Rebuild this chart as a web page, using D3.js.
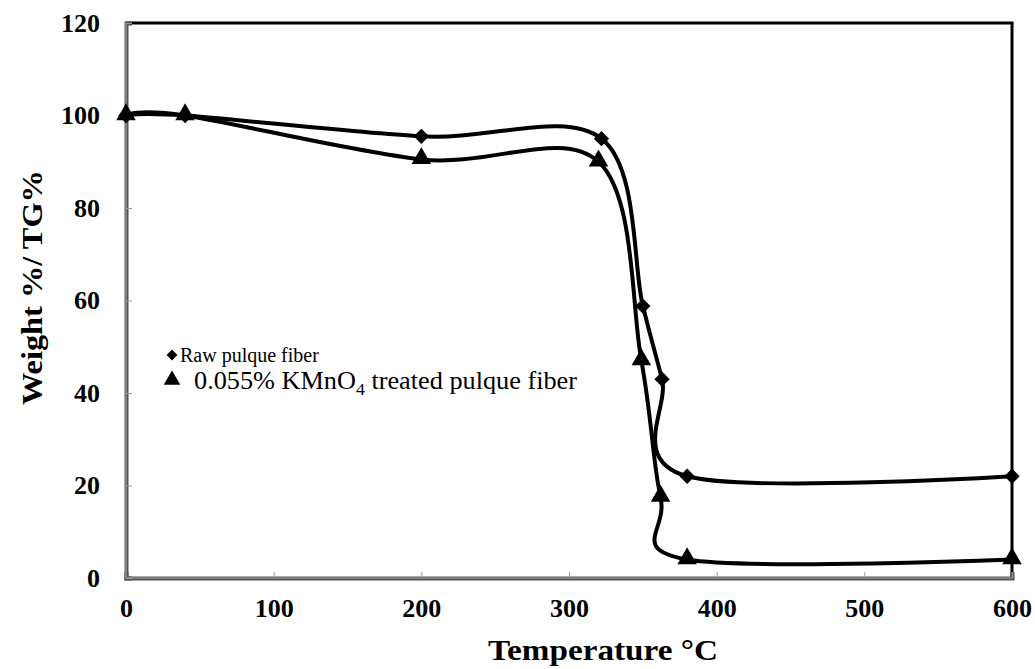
<!DOCTYPE html>
<html><head><meta charset="utf-8">
<script src="https://cdn.jsdelivr.net/npm/d3@7"></script>
<style>body{margin:0;background:#fff}svg{display:block}</style>
</head><body>
<svg id="c" width="1035" height="669"></svg>
<script>
const temps = [0, 40, 200, 322, 350, 363, 380, 600];
const rawFiber = [100, 100, 95.5, 95, 58.8, 43, 22, 22];
const tempsTreated = [0, 40, 200, 320, 349, 362, 380, 600];
const treatedFiber = [100, 100, 90.5, 90, 47, 17.5, 4, 4];
const xTicks = [0, 100, 200, 300, 400, 500, 600];
const yTicks = [0, 20, 40, 60, 80, 100, 120];
const seriesNames = ["Raw pulque fiber", "0.055% KMnO", "4", " treated pulque fiber"];

const svg = d3.select("#c");
const L = 126, R = 1012, T = 23, B = 578;
const x = d3.scaleLinear().domain([0, 600]).range([L, R]);
const y = d3.scaleLinear().domain([0, 120]).range([B, T]);
const serif = "'Liberation Serif','Times New Roman',serif";

// frame: top/right black
svg.append("line").attr("x1", L).attr("x2", R + 1.5).attr("y1", T).attr("y2", T).attr("stroke", "#000").attr("stroke-width", 3);
svg.append("line").attr("x1", R).attr("x2", R).attr("y1", T).attr("y2", B).attr("stroke", "#000").attr("stroke-width", 3);

// axes (inner ticks)
const xAxis = d3.axisBottom(x).tickValues(xTicks).tickSize(-6).tickPadding(21).tickFormat(d3.format("d"));
const gx = svg.append("g").attr("transform", `translate(0,${B})`).call(xAxis);
const yAxis = d3.axisLeft(y).tickValues(yTicks).tickSize(-6).tickPadding(26).tickFormat(d3.format("d"));
const gy = svg.append("g").attr("transform", `translate(${L},0)`).call(yAxis);
[gx, gy].forEach(g => {
  g.select(".domain").attr("stroke", "#555").attr("stroke-width", 4);
  g.selectAll(".tick line").attr("stroke", "#999").attr("stroke-width", 1);
  g.selectAll(".tick text").attr("font-family", serif).attr("font-weight", "bold")
    .attr("font-size", 26).attr("fill", "#000");
});
gx.selectAll(".tick text").attr("dy", "0.71em");
// light inner highlight on axis lines
svg.append("line").attr("x1", L).attr("x2", R).attr("y1", B).attr("y2", B).attr("stroke", "#aaa").attr("stroke-width", 1);
svg.append("line").attr("x1", L).attr("x2", L).attr("y1", T).attr("y2", B).attr("stroke", "#aaa").attr("stroke-width", 1);

// axis titles
svg.append("text").attr("x", 488).attr("y", 660).attr("text-anchor", "start")
  .attr("textLength", 230).attr("lengthAdjust", "spacingAndGlyphs")
  .attr("font-family", serif).attr("font-weight", "bold").attr("font-size", 30).text("Temperature °C");
svg.append("text").attr("transform", "translate(42,405) rotate(-90)").attr("text-anchor", "start")
  .attr("textLength", 235).attr("lengthAdjust", "spacingAndGlyphs")
  .attr("font-family", serif).attr("font-weight", "bold").attr("font-size", 29).text("Weight %/ TG%");

// lines
const line = d3.line().x(d => x(d[0])).y(d => y(d[1])).curve(d3.curveCatmullRom.alpha(0));
const rawData = temps.map((t, i) => [t, rawFiber[i]]);
const trData = tempsTreated.map((t, i) => [t, treatedFiber[i]]);
svg.append("path").datum(rawData).attr("d", line).attr("fill", "none").attr("stroke", "#000").attr("stroke-width", 4);
svg.append("path").datum(trData).attr("d", line).attr("fill", "none").attr("stroke", "#000").attr("stroke-width", 4);

const diamond = d3.symbol().type(d3.symbolDiamond2).size(150);
const tri = d3.symbol().type(d3.symbolTriangle).size(165);
svg.selectAll(".dm").data(rawData).enter().append("path")
  .attr("transform", d => `translate(${x(d[0])},${y(d[1])})`).attr("d", diamond).attr("fill", "#000");
svg.selectAll(".tr").data(trData).enter().append("path")
  .attr("transform", d => `translate(${x(d[0])},${y(d[1]) - 1})`).attr("d", tri).attr("fill", "#000");

// legend
svg.append("path").attr("transform", "translate(172,355)").attr("d", d3.symbol().type(d3.symbolDiamond2).size(75)).attr("fill", "#000");
svg.append("text").attr("x", 180).attr("y", 362).attr("font-family", serif).attr("font-size", 20).text(seriesNames[0]);
svg.append("path").attr("transform", "translate(172,380)").attr("d", d3.symbol().type(d3.symbolTriangle).size(120)).attr("fill", "#000");
const t2 = svg.append("text").attr("x", 194).attr("y", 389).attr("font-family", serif).attr("font-size", 25)
  .attr("textLength", 383).attr("lengthAdjust", "spacingAndGlyphs");
t2.append("tspan").text(seriesNames[1]);
t2.append("tspan").attr("font-size", 17).attr("dy", 6).text(seriesNames[2]);
t2.append("tspan").attr("dy", -6).text(seriesNames[3]);
</script>
</body></html>
